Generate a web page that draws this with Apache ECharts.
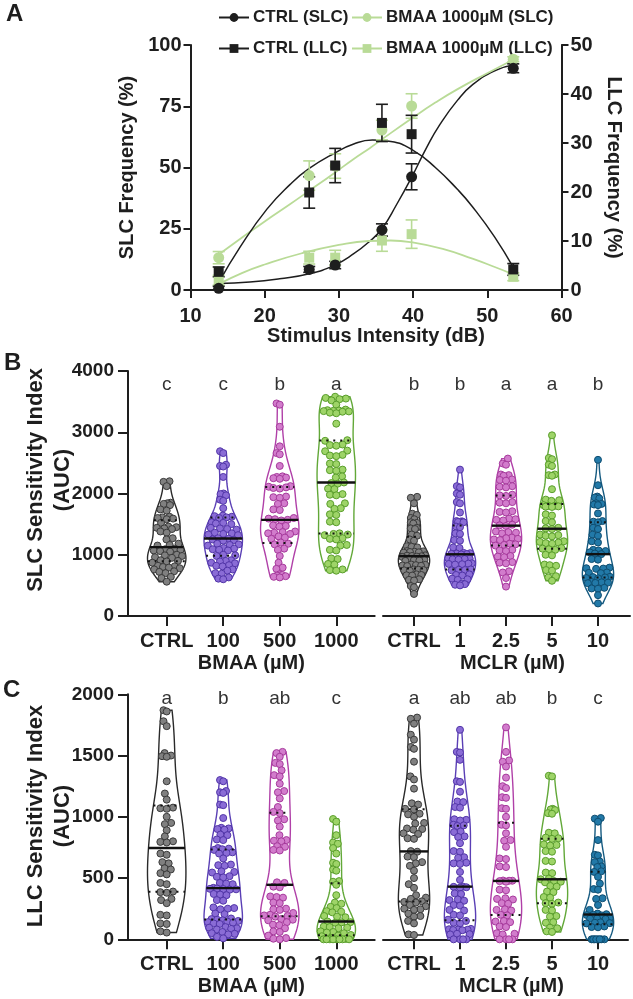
<!DOCTYPE html>
<html><head><meta charset="utf-8">
<script src="https://cdn.jsdelivr.net/npm/echarts@6/dist/echarts.min.js"></script>
<style>html,body{margin:0;padding:0;background:#fff}#c{width:633px;height:999px}</style>
</head><body><div id="c"></div>
<script>
// ---------------- Panel A data ----------------
const dB = [13.8, 26.0, 29.5, 35.8, 39.8, 53.5];
const ctrlSLC = [0.7, 8.4, 10.2, 24.5, 46.2, 90.5];
const ctrlSLCErr = [0.8, 1.2, 1.5, 2.5, 5.3, 1.8];
const bmaaSLC = [13.2, 46.7, 50.6, 65.3, 75.1, 94.2];
const bmaaSLCErr = [2.5, 6.0, 5.0, 4.0, 5.0, 1.0];
const ctrlLLC = [3.7, 19.9, 25.4, 34.1, 31.8, 4.2];
const ctrlLLCErr = [1.0, 3.2, 3.5, 3.8, 3.85, 1.2];
const bmaaLLC = [2.0, 6.6, 6.6, 10.1, 11.4, 2.7];
const bmaaLLCErr = [1.0, 1.3, 1.5, 2.2, 2.9, 0.8];

const ctrlSLCFitX = [13.8, 18, 22, 26, 29.5, 32, 34, 35.8, 37.8, 39.8, 41.8, 43.6, 46, 48.1, 51, 53.5];
const ctrlSLCFitY = [2.7, 3.3, 4.6, 6.6, 10.3, 14.8, 19.5, 25, 35, 46, 58, 67.5, 77.5, 84, 89.5, 91.8];
const ctrlLLCFitX = [13.8, 16.7, 20.3, 23.4, 26, 29.5, 32, 34.5, 37, 40, 43, 46, 48, 51, 53.5];
const ctrlLLCFitY = [1.5, 8.8, 16.5, 21.5, 24.8, 28, 29.8, 30.6, 30.3, 28.5, 25, 20.5, 17, 10.8, 4.6];
const bmaaSLCFitX = [13.8, 17, 20, 23.4, 26, 29.5, 32, 34.2, 35.8, 39.8, 43, 46, 50, 53.5];
const bmaaSLCFitY = [14.5, 21.5, 28, 35, 40.5, 48, 53.5, 58, 61.5, 70, 76.5, 82, 88.5, 94];
const bmaaLLCFitX = [13.8, 17, 20, 25, 30, 34, 37, 40, 44, 48, 51, 53.5];
const bmaaLLCFitY = [1.2, 3.5, 5.2, 7.5, 9.2, 10, 10.1, 9.7, 8.4, 6.4, 4.7, 3.2];

// ---------------- Panel B/C data ----------------
const bmaaCats = ['CTRL', '100', '500', '1000'];
const mclrCats = ['CTRL', '1', '2.5', '5', '10'];
const bTicks = [0, 1000, 2000, 3000, 4000];
const cTicks = [0, 500, 1000, 1500, 2000];

const slcBmaaCtrl = [2200,2190,2120,1850,1840,1830,1810,1740,1720,1620,1610,1600,1590,1580,1520,1460,1450,1440,1430,1420,1380,1360,1270,1250,1180,1160,1150,1100,1090,1080,1070,1060,1050,1000,990,980,960,950,910,900,890,870,820,810,800,790,780,760,730,720,700,640,620,560];
const slcBmaa100 = [2690,2660,2470,2450,2440,2270,2000,1990,1970,1900,1880,1760,1640,1630,1620,1610,1600,1530,1520,1510,1500,1440,1430,1420,1410,1360,1350,1340,1330,1320,1270,1260,1250,1240,1230,1180,1170,1160,1150,1110,1100,1090,1080,1070,1000,990,980,910,900,890,870,860,830,820,810,760,740,700,690,630,610,600];
const slcBmaa500 = [3470,3450,3090,2770,2660,2640,2450,2280,2270,2260,2250,2240,2120,2110,2100,2090,2080,1950,1940,1930,1840,1830,1740,1730,1600,1590,1580,1570,1560,1480,1470,1460,1380,1370,1360,1350,1340,1300,1280,1260,1200,1180,1170,1100,1080,980,870,790,770,680,670,660,650,640,630];
const slcBmaa1000 = [3580,3560,3550,3540,3520,3450,3370,3360,3355,3350,3345,3340,3335,3320,3310,3140,2870,2860,2800,2790,2780,2700,2690,2630,2620,2610,2490,2480,2390,2380,2370,2280,2260,2180,2170,2160,2080,2070,1990,1980,1970,1840,1830,1760,1750,1660,1650,1540,1530,1350,1340,1330,1320,1270,1260,1250,1160,1150,1080,1070,940,930,850,840,760,750,740];
const slcMclrCtrl = [1945,1930,1840,1670,1650,1600,1580,1530,1520,1510,1440,1430,1420,1330,1310,1250,1230,1140,1130,1120,1060,1055,1050,1045,1040,1035,990,985,980,975,970,965,920,915,910,905,900,840,835,830,825,820,815,760,755,750,745,740,680,670,665,660,600,590,580,490,470,360];
const slcMclr1 = [2390,2120,2100,2000,1980,1860,1840,1690,1550,1545,1540,1535,1530,1460,1450,1350,1340,1240,1230,1120,1110,1030,1025,1020,1015,1010,1005,945,940,935,930,925,920,860,855,850,845,840,760,755,750,745,680,670,660,610,600,590,530,520,510,500];
const slcMclr2_5 = [2570,2490,2470,2310,2300,2290,2230,2220,2210,2120,2110,2100,1980,1970,1960,1860,1850,1840,1710,1700,1690,1590,1580,1570,1560,1490,1480,1470,1380,1370,1360,1350,1280,1270,1260,1250,1240,1180,1170,1160,1150,1080,1070,1060,980,970,960,880,870,860,730,710,620,480];
const slcMclr5 = [2950,2580,2560,2470,2450,2310,2300,2290,2070,1900,1890,1880,1810,1800,1795,1790,1785,1780,1660,1640,1550,1530,1440,1430,1420,1330,1320,1310,1300,1220,1210,1200,1190,1180,1110,1100,1090,1080,1000,990,840,830,820,750,740,650,630,575];
const slcMclr10 = [2550,2135,1950,1935,1920,1840,1830,1820,1810,1675,1550,1540,1530,1440,1420,1330,1310,1220,1200,1080,1070,1060,1040,1020,1010,930,920,790,780,775,770,710,705,700,640,635,630,620,615,555,550,545,540,535,460,450,445,340,205];

const llcBmaaCtrl = [1870,1860,1780,1740,1520,1500,1495,1490,1290,1190,1140,1075,1070,1065,1000,950,940,890,840,800,795,790,700,690,630,620,580,570,540,530,460,450,390,385,380,330,320,295,200,195,130,125,65,55];
const llcBmaa100 = [1300,1290,1210,1200,1195,1100,1095,990,910,905,900,895,855,850,815,810,745,740,735,730,710,705,700,660,610,605,600,555,550,545,515,510,505,460,455,450,420,415,412,410,408,405,370,365,360,320,315,260,255,250,245,210,205,170,165,160,155,150,145,140,135,130,125,100,95,90,85,80,60,50,45,40,20,8];
const llcBmaa500 = [1530,1520,1490,1440,1430,1380,1340,1330,1270,1210,1200,1150,1080,1040,1030,980,970,920,850,810,805,800,760,755,730,725,465,460,430,425,350,345,340,300,295,250,245,240,215,200,195,190,185,165,160,155,140,120,115,90,65,60,30,10,5,0];
const llcBmaa1000 = [982,960,850,790,780,745,700,625,615,570,560,475,470,445,360,300,290,265,255,230,225,220,190,185,180,145,140,138,135,105,100,95,90,65,60,55,50,35,30,25,10,5,3,0,0,0,0,0,0,0,0];
const llcMclrCtrl = [1810,1800,1760,1670,1630,1570,1555,1450,1330,1305,1230,1110,1100,1065,1060,1025,1020,1000,950,945,905,900,895,865,860,825,820,720,715,675,670,630,620,600,560,500,450,420,360,340,330,310,305,300,280,270,250,245,240,210,190,185,150,130,40,35];
const llcMclr1 = [1710,1530,1525,1465,1290,1285,1205,1125,1120,1080,1075,980,975,970,935,930,925,880,875,840,835,785,720,715,670,665,625,620,615,550,485,430,428,425,422,375,370,325,320,315,280,275,240,235,200,195,160,150,135,130,85,82,80,78,76,74,45,42,40,0,0,0,0];
const llcMclr2_5 = [1730,1530,1460,1450,1410,1320,1250,1235,1160,1155,1070,1065,1000,935,930,865,810,805,755,660,655,595,590,480,478,478,475,470,405,400,335,330,325,295,290,245,240,235,200,195,150,145,140,105,100,50,45,40,0,0,0,0];
const llcMclr5 = [1335,1330,1065,1060,1055,1030,1025,870,865,830,825,820,775,770,765,720,715,640,635,545,540,495,490,475,470,465,435,430,390,385,345,340,300,295,290,240,235,190,185,140,135,95,90,65,60];
const llcMclr10 = [990,985,960,810,690,685,635,630,595,590,555,550,510,455,410,405,335,330,280,240,210,205,200,198,195,172,170,168,165,138,135,132,130,105,100,98,0,0,0,0,0,0,0,0];

const lettersSlcBmaa = ['c', 'c', 'b', 'a'];
const lettersSlcMclr = ['b', 'b', 'a', 'a', 'b'];
const lettersLlcBmaa = ['a', 'b', 'ab', 'c'];
const lettersLlcMclr = ['a', 'ab', 'ab', 'b', 'c'];

// ---------------- styling ----------------
const FONT = "'Liberation Sans', Arial, Helvetica, sans-serif";
const INK = '#1e1e1e';
const GREEN_A = '#b9db97';
const PAL = {
  grey:    {fill: '#808080', border: '#3a3a3a', line: '#2a2a2a'},
  purple:  {fill: '#8a6cd6', border: '#5236a8', line: '#5a3fb5'},
  magenta: {fill: '#d27ccc', border: '#a63a9c', line: '#b040a8'},
  green:   {fill: '#9ed468', border: '#5a9e2c', line: '#62a838'},
  teal:    {fill: '#2279a8', border: '#0f4d70', line: '#155a80'}
};

const GRID = {
  A:  {left: 190.5, top: 45, width: 371, height: 245},
  B1: {left: 128, top: 371, width: 246.7, height: 245},
  B2: {left: 383, top: 371, width: 247, height: 245},
  C1: {left: 128, top: 694.3, width: 246.7, height: 245},
  C2: {left: 383, top: 694.3, width: 245, height: 245}
};
const XR = {
  B1: [-0.685, 3.68], B2: [-0.674, 4.696], C1: [-0.685, 3.68], C2: [-0.674, 4.652]
};

// ---------------- helpers ----------------
function quantile(s, p) { const h = (s.length - 1) * p; const lo = Math.floor(h), hi = Math.ceil(h); return s[lo] + (s[hi] - s[lo]) * (h - lo); }
function stats(vals) {
  const s = [...vals].sort((a, b) => a - b); const n = s.length;
  const mean = s.reduce((a, b) => a + b, 0) / n;
  const sd = Math.sqrt(s.reduce((a, b) => a + (b - mean) * (b - mean), 0) / (n - 1));
  const iqr = quantile(s, 0.75) - quantile(s, 0.25);
  const bw = 0.9 * Math.min(sd, iqr / 1.34) * Math.pow(n, -0.2);
  const lo = s[0], hi = s[n - 1], steps = 90, prof = [];
  for (let k = 0; k <= steps; k++) {
    const y = lo + (hi - lo) * k / steps; let d = 0;
    for (const v of s) { const z = (y - v) / bw; d += Math.exp(-0.5 * z * z); }
    prof.push([y, d]);
  }
  const mx = Math.max(...prof.map(p => p[1])); prof.forEach(p => p[1] /= mx);
  return {s, prof, med: quantile(s, 0.5), q1: quantile(s, 0.25), q3: quantile(s, 0.75)};
}
function widthAt(st, y) {
  const p = st.prof;
  if (y <= p[0][0]) return p[0][1];
  for (let k = 1; k < p.length; k++) {
    if (y <= p[k][0]) { const t = (y - p[k-1][0]) / (p[k][0] - p[k-1][0]); return p[k-1][1] + t * (p[k][1] - p[k-1][1]); }
  }
  return p[p.length - 1][1];
}
const HALF = 0.34;
function swarm(vals, st, pxX, pxY, D) {
  const idx = vals.map((v, i) => i).sort((a, b) => vals[a] - vals[b]);
  const placed = [], xs = new Array(vals.length);
  for (const k of idx) {
    const y = vals[k] * pxY, forb = [];
    const L = Math.max(D * 0.5, widthAt(st, vals[k]) * HALF * pxX - 3.5);
    for (const p of placed) { const dy = Math.abs(p.y - y); if (dy < D) { const dx = Math.sqrt(D * D - dy * dy); forb.push([p.x - dx, p.x + dx]); } }
    const cands = [0]; forb.forEach(f => cands.push(f[0], f[1]));
    cands.sort((a, b) => Math.abs(a) - Math.abs(b) || a - b);
    let best = null;
    for (const c of cands) {
      if (Math.abs(c) > L + 1e-6) break;
      if (forb.every(f => c <= f[0] + 1e-6 || c >= f[1] - 1e-6)) { best = c; break; }
    }
    if (best === null) {
      let bestScore = -1;
      for (let c = -L; c <= L + 1e-6; c += 0.5) {
        let md = Infinity;
        for (const p of placed) { const dy = p.y - y; if (Math.abs(dy) < 2 * D) { md = Math.min(md, Math.hypot(c - p.x, dy)); } }
        if (md > bestScore + 1e-9) { bestScore = md; best = c; }
      }
    }
    placed.push({x: best, y}); xs[k] = best / pxX;
  }
  return xs;
}

const groups = [
  {g: 'B1', xi: 1, yi: 2, sets: [slcBmaaCtrl, slcBmaa100, slcBmaa500, slcBmaa1000], pal: ['grey', 'purple', 'magenta', 'green'], letters: lettersSlcBmaa, letterY: 3770, ymax: 4000},
  {g: 'B2', xi: 2, yi: 3, sets: [slcMclrCtrl, slcMclr1, slcMclr2_5, slcMclr5, slcMclr10], pal: ['grey', 'purple', 'magenta', 'green', 'teal'], letters: lettersSlcMclr, letterY: 3770, ymax: 4000},
  {g: 'C1', xi: 3, yi: 4, sets: [llcBmaaCtrl, llcBmaa100, llcBmaa500, llcBmaa1000], pal: ['grey', 'purple', 'magenta', 'green'], letters: lettersLlcBmaa, letterY: 1960, ymax: 2000},
  {g: 'C2', xi: 4, yi: 5, sets: [llcMclrCtrl, llcMclr1, llcMclr2_5, llcMclr5, llcMclr10], pal: ['grey', 'purple', 'magenta', 'green', 'teal'], letters: lettersLlcMclr, letterY: 1960, ymax: 2000}
];

const series = [];

function fitSeries(name, xs, ys, yi, color, sym, size, w) {
  return {type: 'line', name, xAxisIndex: 0, yAxisIndex: yi, data: xs.map((x, i) => [x, ys[i]]),
    smooth: 0.5, showSymbol: false, symbol: sym, symbolSize: size,
    lineStyle: {color, width: w}, itemStyle: {color}, z: 2, silent: true};
}
series.push(fitSeries('CTRL (SLC)', ctrlSLCFitX, ctrlSLCFitY, 0, INK, 'circle', 11, 1.5));
series.push(fitSeries('BMAA 1000µM (SLC)', bmaaSLCFitX, bmaaSLCFitY, 0, GREEN_A, 'circle', 11, 1.8));
series.push(fitSeries('CTRL (LLC)', ctrlLLCFitX, ctrlLLCFitY, 1, INK, 'rect', 10, 1.5));
series.push(fitSeries('BMAA 1000µM (LLC)', bmaaLLCFitX, bmaaLLCFitY, 1, GREEN_A, 'rect', 10, 1.8));

function errSeries(id, ys, es, yi, color) {
  return {type: 'custom', name: id, xAxisIndex: 0, yAxisIndex: yi, z: 3, silent: true,
    data: dB.map((x, i) => [x, ys[i], es[i]]),
    renderItem: (params, api) => {
      const x = api.value(0), y = api.value(1), e = api.value(2);
      const t = api.coord([x, y + e]), b = api.coord([x, y - e]); const hw = 6;
      const st = {stroke: color, lineWidth: 1.6};
      return {type: 'group', children: [
        {type: 'line', shape: {x1: t[0], y1: t[1], x2: b[0], y2: b[1]}, style: st},
        {type: 'line', shape: {x1: t[0] - hw, y1: t[1], x2: t[0] + hw, y2: t[1]}, style: st},
        {type: 'line', shape: {x1: b[0] - hw, y1: b[1], x2: b[0] + hw, y2: b[1]}, style: st}
      ]};
    }};
}
series.push(errSeries('errBS', bmaaSLC, bmaaSLCErr, 0, GREEN_A));
series.push(errSeries('errBL', bmaaLLC, bmaaLLCErr, 1, GREEN_A));
series.push(errSeries('errCS', ctrlSLC, ctrlSLCErr, 0, INK));
series.push(errSeries('errCL', ctrlLLC, ctrlLLCErr, 1, INK));

function markSeries(name, ys, yi, color, sym, size) {
  return {type: 'scatter', name, xAxisIndex: 0, yAxisIndex: yi, data: dB.map((x, i) => [x, ys[i]]),
    symbol: sym, symbolSize: size, itemStyle: {color, opacity: 1}, z: 4, silent: true};
}
series.push(markSeries('BMAA 1000µM (SLC)', bmaaSLC, 0, GREEN_A, 'circle', 11));
series.push(markSeries('BMAA 1000µM (LLC)', bmaaLLC, 1, GREEN_A, 'rect', 10));
series.push(markSeries('CTRL (SLC)', ctrlSLC, 0, INK, 'circle', 11));
series.push(markSeries('CTRL (LLC)', ctrlLLC, 1, INK, 'rect', 10));

groups.forEach(G => {
  const gr = GRID[G.g], xr = XR[G.g];
  const pxX = gr.width / (xr[1] - xr[0]);
  const pxY = gr.height / G.ymax;
  const st = G.sets.map(stats);
  series.push({type: 'custom', xAxisIndex: G.xi, yAxisIndex: G.yi, z: 2, silent: true,
    data: st.map((s, i) => [i, s.med]),
    renderItem: (params, api) => {
      const i = params.dataIndex, s = st[i], col = PAL[G.pal[i]].line;
      const left = s.prof.map(p => api.coord([i - p[1] * HALF, p[0]]));
      const right = s.prof.slice().reverse().map(p => api.coord([i + p[1] * HALF, p[0]]));
      return {type: 'polygon', shape: {points: left.concat(right)}, style: {fill: 'none', stroke: col, lineWidth: 1.4}};
    }});
  G.sets.forEach((vals, i) => {
    const xs = swarm(vals, st[i], pxX, pxY, 6.4);
    const c = PAL[G.pal[i]];
    series.push({type: 'scatter', xAxisIndex: G.xi, yAxisIndex: G.yi, z: 3, silent: true,
      data: vals.map((v, k) => [i + xs[k], v]), symbol: 'circle', symbolSize: 7,
      itemStyle: {color: c.fill, borderColor: c.border, borderWidth: 1, opacity: 1}});
  });
  series.push({type: 'custom', xAxisIndex: G.xi, yAxisIndex: G.yi, z: 4, silent: true,
    data: st.map((s, i) => [i, s.med]),
    renderItem: (params, api) => {
      const i = params.dataIndex, s = st[i];
      const seg = (y, style) => {
        const w = widthAt(s, y) * HALF;
        const a = api.coord([i - w, y]), b = api.coord([i + w, y]);
        return {type: 'line', shape: {x1: a[0], y1: a[1], x2: b[0], y2: b[1]}, style};
      };
      return {type: 'group', children: [
        seg(s.q1, {stroke: '#111', lineWidth: 2, lineDash: [2, 5]}),
        seg(s.q3, {stroke: '#111', lineWidth: 2, lineDash: [2, 5]}),
        seg(s.med, {stroke: '#111', lineWidth: 2.4})
      ]};
    }});
  series.push({type: 'custom', xAxisIndex: G.xi, yAxisIndex: G.yi, z: 5, silent: true,
    data: G.letters.map((l, i) => [i, G.letterY]),
    renderItem: (params, api) => {
      const p = api.coord([api.value(0), api.value(1)]);
      return {type: 'text', x: p[0], y: p[1], style: {text: G.letters[params.dataIndex], fill: '#333', font: '19px ' + FONT, align: 'center', verticalAlign: 'middle'}};
    }});
});

// ---------------- axes ----------------
const axLine = {show: true, onZero: false, lineStyle: {color: INK, width: 2}};
const lblStyle = (size) => ({fontSize: size, fontWeight: 'bold', color: INK, fontFamily: FONT, formatter: v => String(v)});
const nameStyle = (size) => ({fontSize: size, fontWeight: 'bold', color: INK, fontFamily: FONT});

function catXAxis(gi, g, cats, name, nameShift) {
  const vals = cats.map((_, i) => i);
  return {type: 'value', gridIndex: gi, min: XR[g][0], max: XR[g][1],
    axisLine: axLine,
    axisTick: {show: true, length: 10, inside: false, lineStyle: {color: INK, width: 2}, customValues: vals},
    axisLabel: Object.assign(lblStyle(20), {customValues: vals, formatter: v => cats[Math.round(v)], margin: 15}),
    splitLine: {show: false},
    name, nameLocation: 'middle', nameGap: 37, nameTextStyle: Object.assign({padding: [0, 0, 0, nameShift]}, nameStyle(20))};
}
function panelYAxis(gi, ticks, show) {
  return {type: 'value', gridIndex: gi, min: ticks[0], max: ticks[ticks.length - 1], interval: ticks[1] - ticks[0], show,
    axisLine: axLine, axisTick: {show: true, length: 10, lineStyle: {color: INK, width: 2}},
    axisLabel: Object.assign(lblStyle(19), {margin: 14}), splitLine: {show: false}};
}

const option = {
  animation: false,
  backgroundColor: '#fff',
  textStyle: {fontFamily: FONT},
  grid: [GRID.A, GRID.B1, GRID.B2, GRID.C1, GRID.C2].map(g => Object.assign({containLabel: false}, g)),
  xAxis: [
    {type: 'value', gridIndex: 0, min: 10, max: 60, interval: 10,
      axisLine: axLine, axisTick: {show: true, length: 8, lineStyle: {color: INK, width: 2}},
      axisLabel: Object.assign(lblStyle(20), {margin: 16}), splitLine: {show: false},
      name: 'Stimulus Intensity (dB)', nameLocation: 'middle', nameGap: 35, nameTextStyle: nameStyle(20)},
    catXAxis(1, 'B1', bmaaCats, 'BMAA (µM)', 0),
    catXAxis(2, 'B2', mclrCats, 'MCLR (µM)', 12),
    catXAxis(3, 'C1', bmaaCats, 'BMAA (µM)', 0),
    catXAxis(4, 'C2', mclrCats, 'MCLR (µM)', 12)
  ],
  yAxis: [
    {type: 'value', gridIndex: 0, min: 0, max: 100, interval: 25,
      axisLine: axLine, axisTick: {show: true, length: 7, lineStyle: {color: INK, width: 2}},
      axisLabel: Object.assign(lblStyle(20), {margin: 9}), splitLine: {show: false},
      name: 'SLC Frequency (%)', nameLocation: 'middle', nameGap: 53, nameTextStyle: nameStyle(20)},
    {type: 'value', gridIndex: 0, position: 'right', min: 0, max: 50, interval: 10,
      axisLine: axLine, axisTick: {show: true, length: 7, lineStyle: {color: INK, width: 2}},
      axisLabel: Object.assign(lblStyle(20), {margin: 9}), splitLine: {show: false},
      name: 'LLC Frequency (%)', nameLocation: 'middle', nameGap: 38, nameRotate: -90, nameTextStyle: nameStyle(20)},
    panelYAxis(1, bTicks, true),
    panelYAxis(2, bTicks, false),
    panelYAxis(3, cTicks, true),
    panelYAxis(4, cTicks, false)
  ],
  legend: [
    ['CTRL (SLC)', 213, 4], ['BMAA 1000µM (SLC)', 346, 4],
    ['CTRL (LLC)', 213, 35], ['BMAA 1000µM (LLC)', 346, 35]
  ].map(([n, l, t]) => ({data: [n], left: l, top: t, itemWidth: 30, itemHeight: 11, itemGap: 4, selectedMode: false,
    textStyle: {fontSize: 17, fontWeight: 'bold', color: INK, fontFamily: FONT, padding: [0, 0, 0, -1]}})),
  graphic: [
    {type: 'text', left: 6, top: 2, style: {text: 'A', font: 'bold 24px ' + FONT, fill: INK}},
    {type: 'text', left: 4, top: 351, style: {text: 'B', font: 'bold 24px ' + FONT, fill: INK}},
    {type: 'text', left: 3, top: 678, style: {text: 'C', font: 'bold 24px ' + FONT, fill: INK}},
    {type: 'text', x: 36, y: 480, rotation: Math.PI / 2, style: {text: 'SLC Sensitivity Index', font: 'bold 22px ' + FONT, fill: INK, align: 'center', verticalAlign: 'middle'}},
    {type: 'text', x: 63, y: 480, rotation: Math.PI / 2, style: {text: '(AUC)', font: 'bold 22px ' + FONT, fill: INK, align: 'center', verticalAlign: 'middle'}},
    {type: 'text', x: 36, y: 816, rotation: Math.PI / 2, style: {text: 'LLC Sensitivity Index', font: 'bold 22px ' + FONT, fill: INK, align: 'center', verticalAlign: 'middle'}},
    {type: 'text', x: 63, y: 816, rotation: Math.PI / 2, style: {text: '(AUC)', font: 'bold 22px ' + FONT, fill: INK, align: 'center', verticalAlign: 'middle'}}
  ],
  series
};

const chart = echarts.init(document.getElementById('c'), null, {renderer: 'canvas'});
chart.setOption(option);
</script></body></html>
